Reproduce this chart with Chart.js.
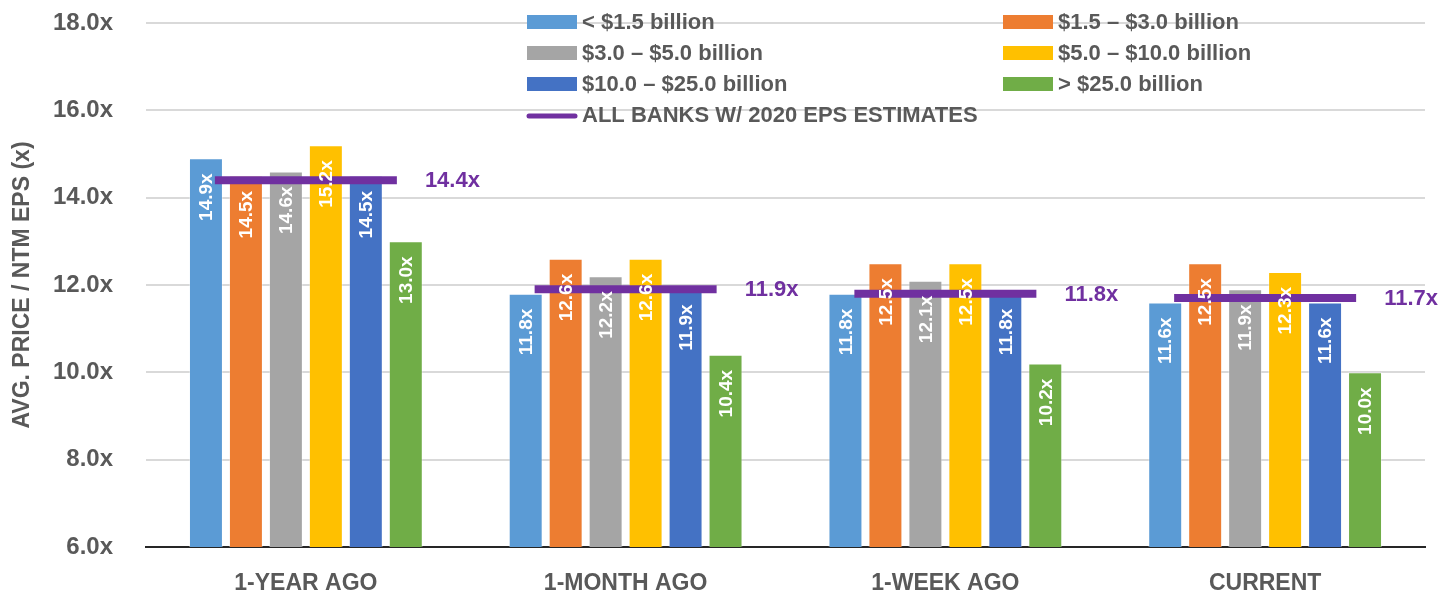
<!DOCTYPE html>
<html>
<head>
<meta charset="utf-8">
<script src="https://cdn.jsdelivr.net/npm/chart.js@4.4.1/dist/chart.umd.min.js"></script>
<style>
  html, body { margin: 0; padding: 0; background: #fff; }
  #wrap { width: 1440px; height: 593px; }
</style>
</head>
<body>
<div id="wrap"><canvas id="myChart"></canvas></div>
<script>
// chart data
const categories = ["1-YEAR AGO", "1-MONTH AGO", "1-WEEK AGO", "CURRENT"];
const seriesNames = [
  "< $1.5 billion",
  "$1.5 \u2013 $3.0 billion",
  "$3.0 \u2013 $5.0 billion",
  "$5.0 \u2013 $10.0 billion",
  "$10.0 \u2013 $25.0 billion",
  "> $25.0 billion"
];
const under1_5 = [14.9, 11.8, 11.8, 11.6];
const from1_5to3 = [14.5, 12.6, 12.5, 12.5];
const from3to5 = [14.6, 12.2, 12.1, 11.9];
const from5to10 = [15.2, 12.6, 12.5, 12.3];
const from10to25 = [14.5, 11.9, 11.8, 11.6];
const over25 = [13.0, 10.4, 10.2, 10.0];
const allBanksName = "ALL BANKS W/ 2020 EPS ESTIMATES";
const allBanks = [14.4, 11.9, 11.8, 11.7];
const yMin = 6, yMax = 18, yStep = 2;

const seriesValues = [under1_5, from1_5to3, from3to5, from5to10, from10to25, over25];
const seriesColors = ["#5B9BD5", "#ED7D31", "#A5A5A5", "#FFC000", "#4472C4", "#70AD47"];
const purple = "#7030A0";
const textGray = "#595959";
const fontFamily = "'Liberation Sans', Arial, sans-serif";

const fmt = (v) => v.toFixed(1) + "x";

// line controller whose long marker points don't push the chart area inwards
class MarkController extends Chart.LineController {
  getMaxOverflow() {
    return 0;
  }
}
MarkController.id = "mark";
MarkController.defaults = Chart.LineController.defaults;
MarkController.overrides = Chart.LineController.overrides;
Chart.register(MarkController);

// bar datasets + the purple "all banks" marks
let datasets = seriesValues.map((vals, i) => ({
  type: "bar",
  label: seriesNames[i],
  data: vals,
  backgroundColor: seriesColors[i],
  borderColor: "rgba(255,255,255,0.35)",
  borderWidth: 1,
  categoryPercentage: 0.75,
  barPercentage: 0.85,
  order: 1
}));
datasets.push({
  type: "mark",
  label: allBanksName,
  data: allBanks,
  showLine: false,
  clip: false,
  pointStyle: "line",
  pointRadius: 91,
  pointHoverRadius: 91,
  pointBorderWidth: 8,
  pointHoverBorderWidth: 8,
  pointBorderColor: purple,
  pointBackgroundColor: purple,
  borderColor: purple,
  order: 0
});

// value labels inside the bars and next to the purple marks
const valueLabels = {
  id: "valueLabels",
  afterDatasetsDraw(chart) {
    const ctx = chart.ctx;
    chart.data.datasets.forEach((ds, i) => {
      const meta = chart.getDatasetMeta(i);
      meta.data.forEach((el, j) => {
        ctx.save();
        if (ds.type === "mark") {
          ctx.fillStyle = purple;
          ctx.font = "bold 22px " + fontFamily;
          ctx.textAlign = "left";
          ctx.textBaseline = "middle";
          ctx.fillText(fmt(ds.data[j]), el.x + 119, el.y + 1);
        } else {
          ctx.translate(el.x + 1, el.y + 15);
          ctx.rotate(-Math.PI / 2);
          ctx.fillStyle = "#ffffff";
          ctx.font = "bold 19px " + fontFamily;
          ctx.textAlign = "right";
          ctx.textBaseline = "middle";
          ctx.fillText(fmt(ds.data[j]), 0, 0);
        }
        ctx.restore();
      });
    });
  }
};

// two column legend drawn over the top of the plot
const gridLegend = {
  id: "gridLegend",
  afterDraw(chart) {
    const ctx = chart.ctx;
    const colX = [527, 1003];
    const rowY = [22, 53, 84, 115];
    ctx.save();
    ctx.font = "bold 22px " + fontFamily;
    ctx.textBaseline = "middle";
    ctx.textAlign = "left";
    chart.data.datasets.forEach((ds, i) => {
      const x = colX[i % 2];
      const y = rowY[Math.floor(i / 2)];
      if (ds.type === "mark") {
        ctx.strokeStyle = purple;
        ctx.lineWidth = 5;
        ctx.lineCap = "round";
        ctx.beginPath();
        ctx.moveTo(x + 2, y + 1);
        ctx.lineTo(x + 48, y + 1);
        ctx.stroke();
      } else {
        ctx.fillStyle = ds.backgroundColor;
        ctx.fillRect(x, y - 7, 50, 14);
      }
      ctx.fillStyle = textGray;
      ctx.fillText(ds.label, x + 55, y + 1);
    });
    ctx.restore();
  }
};

const ctx = document.getElementById("myChart");
new Chart(ctx, {
  data: {
    labels: categories,
    datasets: datasets
  },
  options: {
    responsive: true,
    maintainAspectRatio: false,
    animation: false,
    devicePixelRatio: 1,
    events: [],
    layout: {
      padding: { top: 23, right: 15, bottom: 0, left: 0 }
    },
    plugins: {
      legend: { display: false },
      tooltip: { enabled: false }
    },
    scales: {
      x: {
        afterFit(scale) {
          scale.height = 46;
        },
        grid: { display: false, drawTicks: false },
        border: { display: true, color: "#262626", width: 2 },
        ticks: {
          color: textGray,
          padding: 25,
          font: { family: fontFamily, size: 23, weight: "bold", lineHeight: 1 }
        }
      },
      y: {
        min: yMin,
        max: yMax,
        afterFit(scale) {
          scale.width = 146;
          scale.paddingTop = 12;
          scale.paddingBottom = 12;
        },
        grid: {
          drawTicks: false,
          color: (c) => (c.tick && c.tick.value === yMin ? "rgba(0,0,0,0)" : "#D9D9D9"),
          lineWidth: 2
        },
        border: { display: false },
        ticks: {
          stepSize: yStep,
          padding: 33,
          color: textGray,
          font: { family: fontFamily, size: 24, weight: "bold" },
          callback: (v) => fmt(v)
        },
        title: {
          display: true,
          text: "AVG. PRICE / NTM EPS (x)",
          color: textGray,
          padding: { top: 9, bottom: 0 },
          font: { family: fontFamily, size: 23, weight: "bold" }
        }
      }
    }
  },
  plugins: [valueLabels, gridLegend]
});
</script>
</body>
</html>
